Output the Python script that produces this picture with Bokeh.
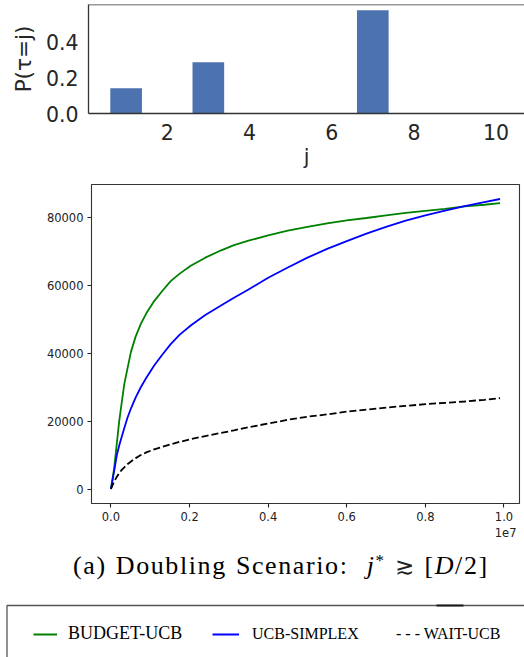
from bokeh.plotting import figure
from bokeh.layouts import column
from bokeh.models import (ColumnDataSource, FixedTicker, Range1d, Span, Title,
                          Legend, LegendItem, Div, PrintfTickFormatter)
from bokeh.embed import file_html
from bokeh.resources import INLINE

# ---- top panel: distribution of tau ----
j_values = [1, 3, 7]
p_tau = [0.14, 0.285, 0.575]
bar_xticks = [2, 4, 6, 8, 10]
bar_yticks = [0.0, 0.2, 0.4]

# ---- main panel: cumulative regret curves (x in units of 1e7) ----
t_1e7 = [0.0, 0.008, 0.015, 0.021, 0.028, 0.034, 0.042, 0.051, 0.063, 0.076, 0.09, 0.11,
         0.13, 0.152, 0.175, 0.203, 0.24, 0.279, 0.313, 0.35, 0.4, 0.45, 0.5, 0.55, 0.6,
         0.65, 0.7, 0.75, 0.8, 0.85, 0.9, 0.95, 0.99]
budget_ucb = [0, 6000, 13500, 20000, 26000, 31000, 35500, 40500, 45000, 48700, 51800, 55400,
              58300, 61300, 63500, 65800, 68200, 70300, 71900, 73200, 74800, 76200, 77300,
              78300, 79200, 79900, 80700, 81400, 82000, 82600, 83300, 83800, 84300]
ucb_simplex = [0, 5200, 10000, 12800, 15600, 18000, 21000, 23800, 27000, 30000, 32800, 36400,
               39500, 42700, 45500, 48200, 51300, 54000, 56400, 58800, 62300, 65300, 68200,
               70800, 73100, 75300, 77300, 79100, 80700, 82100, 83400, 84600, 85500]
wait_ucb = [0, 2200, 3600, 4700, 5700, 6400, 7300, 8100, 9100, 10000, 10800, 11700,
            12400, 13200, 13900, 14700, 15600, 16500, 17300, 18200, 19300, 20400, 21300,
            22000, 22800, 23400, 24000, 24500, 25000, 25400, 25800, 26300, 26800]
line_xticks = [0.0, 0.2, 0.4, 0.6, 0.8, 1.0]
line_yticks = [0, 20000, 40000, 60000, 80000]
series_names = ["BUDGET-UCB", "UCB-SIMPLEX", "WAIT-UCB"]
caption_html = ("(a) Doubling Scenario: &nbsp;<i>j</i><span style=\"font-size:17px;"
                "vertical-align:0.45em;line-height:0\">*</span> "
                "<span style=\"font-family:'DejaVu Serif';font-size:23px;color:#222\">&#x2273;</span>"
                " [<i>D</i>/2]")

# ================= top bar chart =================
p1 = figure(width=524, height=172, output_backend="svg", toolbar_location=None,
            x_range=Range1d(0.085, 10.69), y_range=Range1d(0, 0.607),
            min_border_left=88, min_border_right=0, min_border_top=4, min_border_bottom=59)
p1.frame_align = False
p1.vbar(x=j_values, top=p_tau, width=0.77, fill_color="#4c72b0", line_color=None)
p1.grid.visible = False
p1.outline_line_color = None
p1.xaxis.ticker = FixedTicker(ticks=bar_xticks)
p1.yaxis.ticker = FixedTicker(ticks=bar_yticks)
p1.yaxis.formatter = PrintfTickFormatter(format="%.1f")
for ax in (p1.xaxis[0], p1.yaxis[0]):
    ax.major_tick_line_color = None
    ax.minor_tick_line_color = None
    ax.major_tick_out = 0
    ax.major_tick_in = 0
    ax.axis_line_color = "#333333"
    ax.axis_line_width = 1.3
    ax.major_label_text_font = "DejaVu Sans"
    ax.major_label_text_font_size = "20.5px"
    ax.major_label_text_color = "#262626"
    ax.major_label_standoff = 10
p1.yaxis.axis_label = "P(τ=j)"
p1.yaxis.axis_label_text_font = "DejaVu Sans"
p1.yaxis.axis_label_text_font_style = "normal"
p1.yaxis.axis_label_text_font_size = "21.5px"
p1.yaxis.axis_label_text_color = "#262626"
p1.yaxis.axis_label_standoff = 7
p1.add_layout(Span(location=0.607, dimension="width", line_color="#333333", line_width=1.3))
p1.add_layout(Title(text="j", align="center", offset=7, standoff=1,
                    text_font="DejaVu Sans", text_font_size="20.5px",
                    text_font_style="normal", text_color="#262626"), "below")

# ================= main line chart =================
p2 = figure(width=524, height=372, output_backend="svg", toolbar_location=None,
            x_range=Range1d(-0.0495, 1.0395), y_range=Range1d(-4275, 89775),
            min_border_left=91, min_border_right=5, min_border_top=12, min_border_bottom=41)
p2.frame_align = False
p2.grid.visible = False
p2.outline_line_color = "#333333"
p2.outline_line_width = 1.1
src = ColumnDataSource(data=dict(t=t_1e7, b=budget_ucb, u=ucb_simplex, w=wait_ucb))
p2.line("t", "b", source=src, line_color="#008000", line_width=1.8)
p2.line("t", "u", source=src, line_color="#0000ff", line_width=1.8)
p2.line("t", "w", source=src, line_color="#000000", line_width=1.8, line_dash="7 3")
p2.xaxis.ticker = FixedTicker(ticks=line_xticks)
p2.yaxis.ticker = FixedTicker(ticks=line_yticks)
p2.xaxis.formatter = PrintfTickFormatter(format="%.1f")
p2.yaxis.formatter = PrintfTickFormatter(format="%d")
for ax in (p2.xaxis[0], p2.yaxis[0]):
    ax.axis_line_color = None
    ax.minor_tick_line_color = None
    ax.major_tick_out = 4
    ax.major_tick_in = 0
    ax.major_tick_line_color = "#222222"
    ax.major_tick_line_width = 1.1
    ax.major_label_text_font = "DejaVu Sans"
    ax.major_label_text_font_size = "11.5px"
    ax.major_label_text_color = "#222222"
    ax.major_label_standoff = 4
p2.add_layout(Title(text="1e7", align="right", offset=3, standoff=4,
                    text_font="DejaVu Sans", text_font_size="11.5px",
                    text_font_style="normal", text_color="#222222"), "below")

# ================= caption =================
cap = Div(text=("<div style=\"font-family:'Liberation Serif',serif;font-size:26px;line-height:26px;"
                "padding-top:9px;padding-left:73px;margin:0;white-space:nowrap;letter-spacing:1.6px;"
                "word-spacing:1px;color:#000\">" + caption_html + "</div>"),
          width=524, height=52, margin=0)

# ================= legend box =================
p3 = figure(width=524, height=61, output_backend="svg", toolbar_location=None,
            x_range=Range1d(0, 524), y_range=Range1d(0, 61), x_axis_type=None, y_axis_type=None,
            min_border=0, min_border_left=0, min_border_right=0, min_border_top=0,
            min_border_bottom=0)
p3.frame_align = False
p3.outline_line_color = None
p3.grid.visible = False
hidden = ColumnDataSource(data=dict(x=[-100, -90], y=[-100, -100]))
r_g = p3.line("x", "y", source=hidden, line_color="#008000", line_width=2)
r_b = p3.line("x", "y", source=hidden, line_color="#0000ff", line_width=2)
r_w = p3.line("x", "y", source=hidden, line_color="#000000", line_width=1.5, line_dash="4 3")
p3.line([6.5, 6.5, 540], [-10, 52, 52], line_color="#555555", line_width=1.3)
p3.line([436, 463], [52, 52], line_color="#1a1a1a", line_width=2)


def mk_legend(label, rend, loc, gw, standoff, size):
    return Legend(items=[LegendItem(label=label, renderers=[rend])], location=loc,
                  orientation="horizontal", padding=0, margin=0, spacing=0,
                  glyph_width=gw, glyph_height=20, label_height=20, label_standoff=standoff,
                  border_line_color=None, background_fill_alpha=0,
                  label_text_font="Liberation Serif", label_text_font_size=size,
                  label_text_color="#000000")


p3.add_layout(mk_legend(series_names[0], r_g, (33, 13), 24, 11, "18px"))
p3.add_layout(mk_legend(series_names[1], r_b, (212, 13), 27, 13, "16px"))
p3.add_layout(mk_legend("- - - " + series_names[2], r_w, (396, 13), 0, 0, "16px"))

layout = column(p1, p2, cap, p3, spacing=0)
open("out.html", "w").write(file_html(layout, INLINE))
